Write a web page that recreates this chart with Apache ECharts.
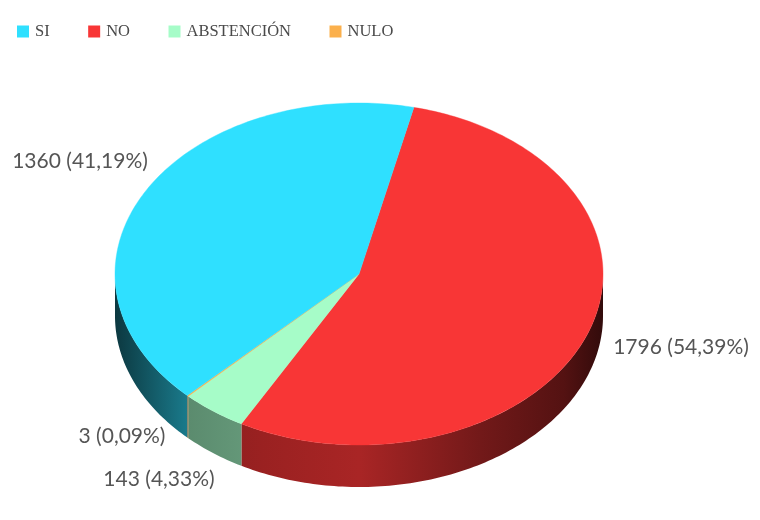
<!DOCTYPE html>
<html>
<head>
<meta charset="utf-8">
<style>html,body{margin:0;padding:0;background:#fff}#c{width:760px;height:520px}</style>
<script src="https://cdn.jsdelivr.net/npm/echarts@6/dist/echarts.min.js"></script>
</head>
<body>
<div id="c"></div>
<script>
const categories = ['NO', 'ABSTENCIÓN', 'NULO', 'SI'];
const legendOrder = ['SI', 'NO', 'ABSTENCIÓN', 'NULO'];
const values = [1796, 143, 3, 1360];
const colors = ['#f83636', '#a6fcc8', '#fbb04c', '#2fe0ff'];
const labelCentres = [[681, 347], [159, 479], [122, 436], [80, 161]];

const CX = 359, CY = 274, RX = 244, RY = 171, DEPTH = 42, START = 13;
const total = values.reduce((a, b) => a + b, 0);
const chart = echarts.init(document.getElementById('c'), null, {renderer: 'canvas'});

function pt(deg, dy) {
  const r = deg * Math.PI / 180;
  return [CX + RX * Math.sin(r), CY - RY * Math.cos(r) + (dy || 0)];
}
function arc(a, b, dy) {
  const out = [], n = Math.max(2, Math.ceil(Math.abs(b - a)));
  for (let i = 0; i <= n; i++) out.push(pt(a + (b - a) * i / n, dy));
  return out;
}
function shade(hex, f) {
  const n = parseInt(hex.slice(1), 16);
  const c = [n >> 16, (n >> 8) & 255, n & 255].map(v => Math.round(v * f));
  return 'rgb(' + c.join(',') + ')';
}
function sideFill(hex) {
  const stops = [[0, .25], [.15, .55], [.3, .62], [.5, .68], [.75, .46], [.92, .34], [1, .2]];
  return new echarts.graphic.LinearGradient(CX - RX, 0, CX + RX, 0,
    stops.map(s => ({offset: s[0], color: shade(hex, s[1])})), true);
}
function sliceRange(i) {
  let a = START;
  for (let k = 0; k < i; k++) a += values[k] / total * 360;
  return [a, a + values[i] / total * 360];
}
function makeRender(i) {
  return function (params, api) {
    const v = api.value(0);
    const [a, b] = sliceRange(i);
    const kids = [];
    const s = Math.max(a, 90), e = Math.min(b, 270);
    if (e > s) {
      const pts = arc(s, e, 0).concat(arc(e, s, DEPTH));
      kids.push({type: 'polygon', z2: 1, shape: {points: pts},
        style: {fill: sideFill(colors[i]), stroke: null}});
    }
    kids.push({type: 'polygon', z2: 2,
      shape: {points: [[CX, CY]].concat(arc(a, b, 0))},
      style: {fill: colors[i], stroke: colors[i], lineWidth: 0.4}});
    kids.push({type: 'text', z2: 3, style: {
      x: labelCentres[i][0], y: labelCentres[i][1],
      text: v + ' (' + (v / total * 100).toFixed(2).replace('.', ',') + '%)',
      font: '21px Lato', fill: '#555', align: 'center', verticalAlign: 'middle'}});
    return {type: 'group', children: kids};
  };
}

chart.setOption({
  animation: false,
  backgroundColor: '#fff',
  legend: {
    data: legendOrder, left: 12, top: 18, icon: 'rect',
    itemWidth: 12, itemHeight: 12, itemGap: 38.5,
    textStyle: {fontFamily: '"Liberation Serif"', fontSize: 16.5, color: '#4a4a4a', padding: [0, 0, 0, 1]},
    selectedMode: false
  },
  tooltip: {show: false},
  series: categories.map((name, i) => ({
    type: 'custom', name, coordinateSystem: 'none',
    itemStyle: {color: colors[i]},
    renderItem: makeRender(i),
    data: [[values[i]]]
  }))
});
</script>
</body>
</html>
